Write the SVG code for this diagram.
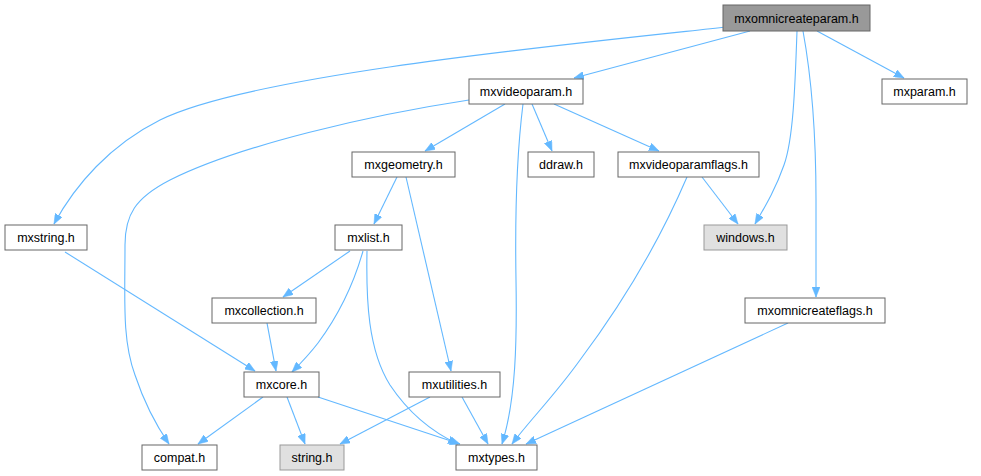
<svg xmlns="http://www.w3.org/2000/svg" width="981" height="476" viewBox="0 0 981 476">
<style>
.n rect{fill:#ffffff;stroke:#666666;stroke-width:1}
.root rect{fill:#999999;stroke:#666666}
.ext rect{fill:#e0e0e0;stroke:#999999}
text{font-family:"Liberation Sans",Arial,sans-serif;font-size:12.5px;fill:#000000;text-anchor:middle}
.e path{fill:none;stroke:#63b8ff;stroke-width:1.1;marker-end:url(#ah)}
</style>
<defs>
<marker id="ah" markerUnits="userSpaceOnUse" markerWidth="11" markerHeight="8" refX="10" refY="4" orient="auto">
<path d="M0,0 L10,4 L0,8 z" fill="#63b8ff" stroke="#63b8ff" stroke-width="0.5"/>
</marker>
</defs>
<rect width="981" height="476" fill="#ffffff"/>
<g id="edges" class="e">
<path d="M727,27 C 560,45 250,75 160,120 C 110,145 75,185 54,224"/>
<path d="M750,31 L574,78"/>
<path d="M817,31 L904,78"/>
<path d="M797,31 C 795,90 793,140 784,165 C 776,188 766,205 755,224"/>
<path d="M803,31 C 812,80 816,140 816,200 L816,297"/>
<path d="M469,100 C 370,115 240,145 170,180 C 135,198 125,215 125,245 C 125,300 122,340 135,375 C 145,405 158,428 169,444"/>
<path d="M505,104 L425,151"/>
<path d="M523,104 C 516,160 515,220 516,280 C 517,340 516,400 502,444"/>
<path d="M532,104 L552,151"/>
<path d="M554,104 L659,151"/>
<path d="M397,177 L374,224"/>
<path d="M406,177 L451,371"/>
<path d="M350,251 L283,297"/>
<path d="M363,251 C 352,290 335,320 318,343 C 308,356 300,364 292,372"/>
<path d="M367,251 C 366,300 368,350 390,385 C 410,415 432,432 458,444"/>
<path d="M702,177 L738,224"/>
<path d="M687,177 C 660,240 625,300 580,360 C 555,395 530,420 512,444"/>
<path d="M788,323 L526,444"/>
<path d="M65,252 L255,371"/>
<path d="M267,323 L276,371"/>
<path d="M263,397 L198,444"/>
<path d="M287,397 L305,444"/>
<path d="M318,397 L460,444"/>
<path d="M430,397 L340,444"/>
<path d="M462,397 L488,444"/>
</g>
<g id="mxomnicreateparam" class="n root"><rect x="723" y="5" width="147" height="26"/><text x="796.5" y="22.5">mxomnicreateparam.h</text></g>
<g id="mxvideoparam" class="n"><rect x="469" y="79" width="114" height="25"/><text x="526" y="96">mxvideoparam.h</text></g>
<g id="mxparam" class="n"><rect x="882" y="79" width="85" height="25"/><text x="924.5" y="96">mxparam.h</text></g>
<g id="mxgeometry" class="n"><rect x="352" y="152" width="103" height="25"/><text x="403.5" y="169">mxgeometry.h</text></g>
<g id="ddraw" class="n"><rect x="528" y="152" width="66" height="25"/><text x="561" y="169">ddraw.h</text></g>
<g id="mxvideoparamflags" class="n"><rect x="618" y="152" width="141" height="25"/><text x="688.5" y="169">mxvideoparamflags.h</text></g>
<g id="mxstring" class="n"><rect x="5" y="225" width="82" height="25"/><text x="46" y="242">mxstring.h</text></g>
<g id="mxlist" class="n"><rect x="335" y="225" width="67" height="25"/><text x="368.5" y="242">mxlist.h</text></g>
<g id="windows" class="n ext"><rect x="704" y="225" width="83" height="25"/><text x="745.5" y="242">windows.h</text></g>
<g id="mxcollection" class="n"><rect x="212" y="298" width="104" height="25"/><text x="264" y="315">mxcollection.h</text></g>
<g id="mxomnicreateflags" class="n"><rect x="745" y="298" width="140" height="25"/><text x="815" y="315">mxomnicreateflags.h</text></g>
<g id="mxcore" class="n"><rect x="244" y="372" width="75" height="25"/><text x="281.5" y="389">mxcore.h</text></g>
<g id="mxutilities" class="n"><rect x="409" y="372" width="91" height="25"/><text x="454.5" y="389">mxutilities.h</text></g>
<g id="compat" class="n"><rect x="142" y="445" width="75" height="25"/><text x="179.5" y="462">compat.h</text></g>
<g id="string" class="n ext"><rect x="280" y="445" width="64" height="25"/><text x="312" y="462">string.h</text></g>
<g id="mxtypes" class="n"><rect x="456" y="445" width="81" height="25"/><text x="496.5" y="462">mxtypes.h</text></g>
</svg>
